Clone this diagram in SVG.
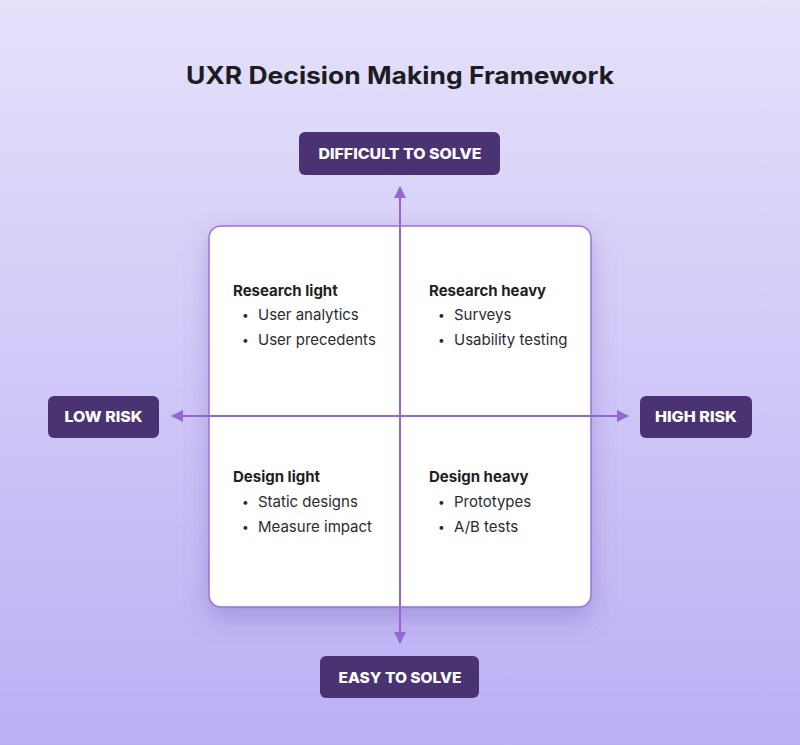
<svg xmlns="http://www.w3.org/2000/svg" width="800" height="745" viewBox="0 0 800 745">
<defs>
<linearGradient id="bg" x1="0" y1="0" x2="0" y2="1">
<stop offset="0" stop-color="#e5e1fa"/>
<stop offset="1" stop-color="#bbaff4"/>
</linearGradient>
<filter id="sh" x="-20%" y="-20%" width="140%" height="150%">
<feDropShadow dx="0" dy="10" stdDeviation="12" flood-color="#5b3fa0" flood-opacity="0.3"/>
</filter>
<marker id="ah" viewBox="0 0 12 12" refX="11" refY="6" markerWidth="12" markerHeight="12" markerUnits="userSpaceOnUse" orient="auto">
<path d="M0,0 L12,6 L0,12 Z" fill="#9466d6"/>
</marker>
<style>
.lbl{fill:#4a3372}
.lt{font-family:Inter,"Open Sans",sans-serif;font-weight:800;font-size:15px;fill:#fff;text-anchor:middle}
.h{font-family:Inter,"Open Sans",sans-serif;font-weight:700;font-size:15px;fill:#1e1e24}
.b{font-family:Inter,"Open Sans",sans-serif;font-size:15px;fill:#2a2a30}
.d{font-family:Inter,"Open Sans",sans-serif;font-size:12px;fill:#2a2a30}
.ax{stroke:#9466d6;stroke-width:2;fill:none}
</style>
</defs>
<rect width="800" height="745" fill="url(#bg)"/>
<text x="400" y="84" text-anchor="middle" font-family="Inter,'Open Sans',sans-serif" font-weight="700" font-size="24" fill="#1c1c22" textLength="428" lengthAdjust="spacingAndGlyphs">UXR Decision Making Framework</text>
<g id="card">
<rect x="209" y="226" width="382" height="381" rx="12" fill="#ffffff" stroke="#9a6fdc" stroke-width="1.5" filter="url(#sh)"/>
</g>
<g id="connectors">
<line class="ax" x1="400" y1="643" x2="400" y2="187" marker-end="url(#ah)"/>
<line class="ax" x1="400" y1="187" x2="400" y2="643" marker-end="url(#ah)"/>
<line class="ax" x1="628" y1="416" x2="172" y2="416" marker-end="url(#ah)"/>
<line class="ax" x1="172" y1="416" x2="628" y2="416" marker-end="url(#ah)"/>
</g>
<g id="difficult">
<rect class="lbl" x="299" y="132" width="201" height="43" rx="6"/>
<text class="lt" x="400" y="159" textLength="163" lengthAdjust="spacingAndGlyphs">DIFFICULT TO SOLVE</text>
</g>
<g id="easy">
<rect class="lbl" x="320" y="656" width="159" height="42" rx="6"/>
<text class="lt" x="400" y="683" textLength="123" lengthAdjust="spacingAndGlyphs">EASY TO SOLVE</text>
</g>
<g id="low">
<rect class="lbl" x="48" y="396" width="111" height="42" rx="6"/>
<text class="lt" x="103.5" y="422" textLength="78" lengthAdjust="spacingAndGlyphs">LOW RISK</text>
</g>
<g id="high">
<rect class="lbl" x="640" y="396" width="112" height="42" rx="6"/>
<text class="lt" x="696" y="422" textLength="82" lengthAdjust="spacingAndGlyphs">HIGH RISK</text>
</g>
<g id="research-light">
<text class="h" x="233" y="296">Research light</text>
<text class="d" x="242" y="319">•</text><text class="b" x="258" y="320">User analytics</text>
<text class="d" x="242" y="344">•</text><text class="b" x="258" y="345">User precedents</text>
</g>
<g id="research-heavy">
<text class="h" x="429" y="296">Research heavy</text>
<text class="d" x="438" y="319">•</text><text class="b" x="454" y="320">Surveys</text>
<text class="d" x="438" y="344">•</text><text class="b" x="454" y="345">Usability testing</text>
</g>
<g id="design-light">
<text class="h" x="233" y="482">Design light</text>
<text class="d" x="242" y="506">•</text><text class="b" x="258" y="507">Static designs</text>
<text class="d" x="242" y="531">•</text><text class="b" x="258" y="532">Measure impact</text>
</g>
<g id="design-heavy">
<text class="h" x="429" y="482">Design heavy</text>
<text class="d" x="438" y="506">•</text><text class="b" x="454" y="507">Prototypes</text>
<text class="d" x="438" y="531">•</text><text class="b" x="454" y="532">A/B tests</text>
</g>
</svg>
